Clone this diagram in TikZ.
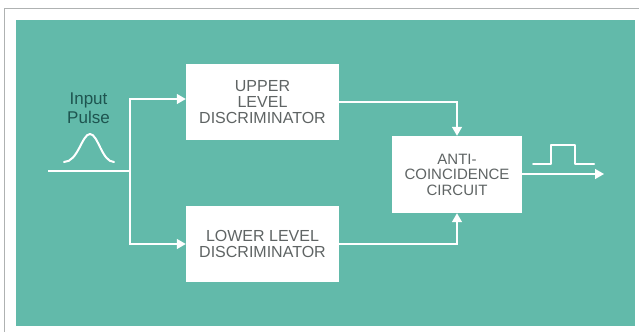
\documentclass[tikz,border=0pt]{standalone}
\usepackage{fontspec}
\setmainfont{Liberation Sans}
\usetikzlibrary{arrows.meta}
\definecolor{panel}{RGB}{98,186,170}
\definecolor{boxtext}{RGB}{95,100,100}
\definecolor{labtext}{RGB}{30,85,80}
\definecolor{framegray}{RGB}{175,178,178}
\tikzset{
  blk/.style={fill=white, draw=none, minimum width=153pt, minimum height=76pt,
    align=center, text=boxtext, font=\fontsize{16}{16}\selectfont, inner sep=0pt},
  ablk/.style={blk, minimum width=130pt, minimum height=77pt, font=\fontsize{15}{15.5}\selectfont},
  wire/.style={draw=white, line width=1.4pt},
  arr/.style={wire, -{Triangle[length=9pt,width=10pt]}},
  sig/.style={draw=white, line width=2pt, line join=round, line cap=round}
}
\begin{document}
\begin{tikzpicture}[x=1pt,y=-1pt]
\useasboundingbox (0,0) rectangle (639,332);
\fill[white] (0,0) rectangle (639,332);
% frame
\draw[framegray, line width=1pt] (4.5,332) -- (4.5,8.5) -- (639,8.5);
% panel
\fill[panel] (16,20) rectangle (635,326);
% blocks
\node[blk] (upper) at (262.5,102) {UPPER\\LEVEL\\DISCRIMINATOR};
\node[blk] (lower) at (262.5,244) {LOWER LEVEL\\DISCRIMINATOR};
\node[ablk] (anti) at (457,174.5) {ANTI-\\COINCIDENCE\\CIRCUIT};
% label
\node[text=labtext, font=\fontsize{17}{19}\selectfont, align=center, inner sep=0pt] (lab) at (88.5,108) {Input\\Pulse};
% coordinates
\coordinate (in) at (48,171);
\coordinate (j) at (130,171);
\coordinate (out) at (604,174);
% connectors
\draw[wire] (in) -- (j);
\draw[arr] (j) |- ([yshift=3pt]upper.west);
\draw[arr] (j) |- (lower.west);
\draw[arr] (upper.east) -| (anti.north);
\draw[arr] (lower.east) -| (anti.south);
\draw[arr] (anti.east |- out) -- (out);
% gaussian pulse
\draw[sig] (64,162) .. controls (78,162) and (82,134) .. (90,134) .. controls (98,134) and (102,162) .. (114,162);
% square pulse
\draw[sig] (533,164) -- (551,164) -- (551,145) -- (575,145) -- (575,164) -- (594,164);
\end{tikzpicture}
\end{document}
